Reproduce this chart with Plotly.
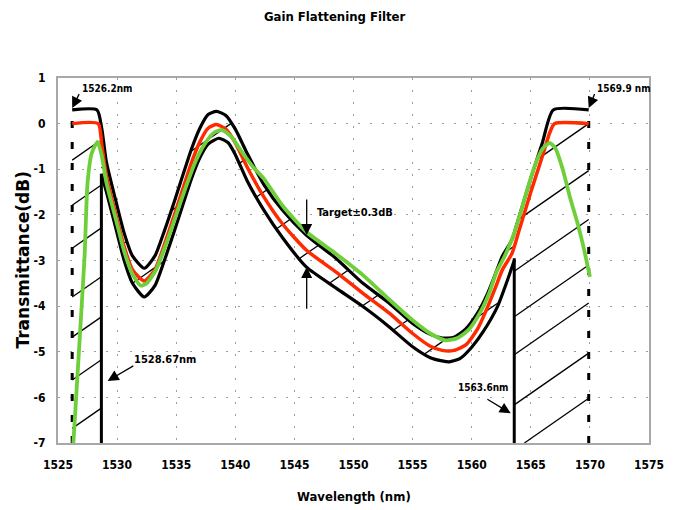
import numpy as np
import plotly.graph_objects as go

# ---------------- data ----------------
# Target curve (red)
target_x = [1526.2, 1528.4, 1528.7, 1529.1, 1529.9, 1530.6, 1531.3, 1532.3, 1533.2, 1534.0,
            1534.85, 1535.6, 1536.3, 1537.0, 1537.7, 1538.4, 1539.2, 1540.0, 1541.0, 1542.4,
            1544.0, 1546.0, 1548.5, 1550.8, 1553.0, 1555.0, 1556.5, 1557.5, 1558.5, 1559.5,
            1560.5, 1561.3, 1562.0, 1562.6, 1563.4, 1564.0, 1565.0, 1566.0, 1566.6, 1567.0, 1569.9]
target_y = [0.0, 0.0, -0.45, -1.15, -2.0, -2.7, -3.2, -3.45, -3.2, -2.65,
            -2.0, -1.4, -0.85, -0.4, -0.1, -0.02, -0.12, -0.42, -0.95, -1.6,
            -2.2, -2.77, -3.25, -3.72, -4.15, -4.6, -4.88, -4.97, -4.97, -4.85,
            -4.5, -4.05, -3.6, -3.2, -2.85, -2.35, -1.5, -0.7, -0.2, 0.0, 0.0]

# Upper tolerance (+0.3 dB, black)
upper_x = [1526.2, 1528.3, 1528.7, 1529.1, 1529.9, 1530.6, 1531.3, 1532.3, 1533.2, 1534.0,
           1534.85, 1535.6, 1536.3, 1537.0, 1537.7, 1538.4, 1539.2, 1540.0, 1541.0, 1542.4,
           1544.0, 1546.0, 1548.5, 1550.8, 1553.0, 1555.0, 1556.5, 1557.5, 1558.5, 1559.5,
           1560.5, 1561.3, 1562.0, 1562.6, 1563.4, 1564.0, 1565.0, 1566.0, 1566.9, 1569.9]
upper_y = [0.3, 0.3, -0.1, -0.85, -1.7, -2.4, -2.9, -3.17, -2.9, -2.35,
           -1.7, -1.1, -0.55, -0.1, 0.2, 0.27, 0.18, -0.12, -0.65, -1.33,
           -1.9, -2.44, -2.95, -3.5, -3.93, -4.38, -4.62, -4.7, -4.68, -4.5,
           -4.15, -3.75, -3.3, -2.9, -2.55, -2.05, -1.2, -0.4, 0.3, 0.3]

# Lower tolerance (-0.3 dB, black)
lower_x = [1528.67, 1529.1, 1529.9, 1530.6, 1531.3, 1532.3, 1533.2, 1534.0, 1534.85, 1535.6,
           1536.3, 1537.0, 1537.7, 1538.6, 1539.4, 1540.0, 1541.0, 1542.4, 1544.0, 1546.0,
           1548.5, 1550.8, 1553.0, 1555.0, 1556.5, 1557.5, 1558.1, 1559.0, 1560.0, 1561.0,
           1562.2, 1563.0, 1563.6]
lower_y = [-1.1, -1.5, -2.3, -3.0, -3.5, -3.8, -3.55, -3.0, -2.35, -1.75,
           -1.2, -0.75, -0.45, -0.32, -0.42, -0.68, -1.25, -1.89, -2.5, -3.14,
           -3.6, -4.01, -4.45, -4.89, -5.13, -5.2, -5.22, -5.15, -4.9, -4.55,
           -4.0, -3.45, -3.0]

# Measured filter (green)
meas_x = [1526.3, 1526.7, 1527.0, 1527.25, 1527.5, 1527.85, 1528.35, 1528.7, 1529.1, 1529.9,
          1530.6, 1531.3, 1532.0, 1532.5, 1533.3, 1534.2, 1535.0, 1535.8, 1536.6, 1537.4,
          1538.2, 1538.9, 1539.7, 1540.5, 1541.5, 1542.4, 1544.0, 1546.0, 1548.5, 1550.8,
          1553.0, 1555.0, 1556.5, 1557.8, 1558.8, 1559.8, 1560.8, 1561.5, 1562.1, 1562.8,
          1563.6, 1564.3, 1565.3, 1566.0, 1566.6, 1567.1, 1567.7, 1568.3, 1568.95, 1569.5, 1570.0]
meas_y = [-7.0, -5.3, -4.0, -2.9, -1.3, -0.65, -0.4, -0.7, -1.3, -2.1,
          -2.8, -3.3, -3.55, -3.5, -3.2, -2.6, -2.0, -1.4, -0.85, -0.45,
          -0.2, -0.14, -0.3, -0.6, -0.95, -1.2, -1.8, -2.37, -2.85, -3.32,
          -3.85, -4.31, -4.6, -4.75, -4.7, -4.5, -4.1, -3.7, -3.25, -2.9,
          -2.4, -1.8, -0.95, -0.55, -0.42, -0.55, -1.0, -1.6, -2.18, -2.75, -3.36]

# Band edges (nm)
edge_dash = [1526.2, 1569.9]
edge_solid = [1528.67, 1563.6]
edge_solid_top = [-1.1, -2.95]

# Hatching (decorative): slope in dB/nm and line levels
hatch_slope = 0.18
left_hatch_levels = [-0.80, -1.79, -2.73, -3.80, -4.68, -5.62, -6.68]     # y at 1526.2 nm
right_hatch_levels = [0.0, -1.03, -2.10, -3.10, -3.93, -5.03, -6.02]      # y at 1569.9 nm
band_hatch_levels = [6.45, 5.45, 4.45, 3.45, 2.45, 1.45, 0.45, -0.55, -1.55, -2.55]  # y at 1569.9 nm

x_ticks = [1525, 1530, 1535, 1540, 1545, 1550, 1555, 1560, 1565, 1570, 1575]
y_ticks = [-7, -6, -5, -4, -3, -2, -1, 0, 1]

# ---------------- helpers ----------------
def up(x):
    return np.interp(x, upper_x, upper_y)

def lo(x):
    return np.interp(x, lower_x, lower_y)

def clip_lines(levels, anchor, x0, x1, lo_fn, hi_fn):
    xs = np.linspace(x0, x1, 3000)
    ox, oy = [], []
    for c in levels:
        ys = c + hatch_slope * (xs - anchor)
        m = (ys >= lo_fn(xs)) & (ys <= hi_fn(xs))
        run_x, run_y = [], []
        for xi, yi, mi in zip(xs, ys, m):
            if mi:
                run_x.append(float(xi)); run_y.append(float(yi))
            elif run_x:
                ox += run_x + [None]; oy += run_y + [None]
                run_x, run_y = [], []
        if run_x:
            ox += run_x + [None]; oy += run_y + [None]
    return ox, oy

hx, hy = [], []
a, b = clip_lines(left_hatch_levels, edge_dash[0], edge_dash[0], edge_solid[0],
                  lambda x: np.full_like(x, -7.0), lambda x: up(x) - 0.5)
hx += a; hy += b
a, b = clip_lines(right_hatch_levels, edge_dash[1], edge_solid[1], edge_dash[1],
                  lambda x: np.full_like(x, -7.0), up)
hx += a; hy += b
a, b = clip_lines(band_hatch_levels, edge_dash[1], edge_solid[0], edge_solid[1], lo, up)
hx += a; hy += b

# ---------------- figure ----------------
FONT = "Liberation Sans Narrow, DejaVu Sans Condensed, Arial Narrow, sans-serif"
fig = go.Figure()

fig.add_trace(go.Scatter(x=hx, y=hy, mode="lines", line=dict(color="black", width=1.3),
                         hoverinfo="skip", showlegend=False, connectgaps=False))

for xe in edge_dash:
    fig.add_trace(go.Scatter(x=[xe, xe], y=[-7, 0.3], mode="lines",
                             line=dict(color="black", width=3, dash="7px,14px"),
                             showlegend=False, hoverinfo="skip"))
for xe, ye in zip(edge_solid, edge_solid_top):
    fig.add_trace(go.Scatter(x=[xe, xe], y=[-7, ye], mode="lines",
                             line=dict(color="black", width=3),
                             showlegend=False, hoverinfo="skip"))

fig.add_trace(go.Scatter(x=upper_x, y=upper_y, mode="lines",
                         line=dict(color="black", width=3.2, shape="spline", smoothing=0.6),
                         showlegend=False))
fig.add_trace(go.Scatter(x=lower_x, y=lower_y, mode="lines",
                         line=dict(color="black", width=3.2, shape="spline", smoothing=0.6),
                         showlegend=False))
fig.add_trace(go.Scatter(x=target_x, y=target_y, mode="lines",
                         line=dict(color="#ff2a00", width=3.5, shape="spline", smoothing=0.6),
                         showlegend=False))
fig.add_trace(go.Scatter(x=meas_x, y=meas_y, mode="lines",
                         line=dict(color="#6fcf3a", width=3.8, shape="spline", smoothing=0.6),
                         showlegend=False))

def arrow(x, y, ax, ay):
    fig.add_annotation(x=x, y=y, ax=ax, ay=ay, xref="x", yref="y", axref="x", ayref="y",
                       text="", showarrow=True, arrowhead=2, arrowsize=1.7,
                       arrowwidth=1.3, arrowcolor="black")

def label(x, y, t, size=11):
    fig.add_annotation(x=x, y=y, xref="x", yref="y", text=t, showarrow=False,
                       xanchor="left", yanchor="middle",
                       font=dict(family=FONT, size=size, color="black", weight="bold"))

arrow(1526.2, 0.34, 1526.85, 0.68)
label(1526.85, 0.76, "1526.2nm", 10)
arrow(1569.9, 0.34, 1570.45, 0.68)
label(1570.45, 0.76, "1569.9 nm", 10)
arrow(1546.04, -2.44, 1546.04, -1.63)
arrow(1546.04, -3.14, 1546.04, -4.09)
label(1546.75, -1.94, "Target±0.3dB", 11)
arrow(1529.2, -5.64, 1531.5, -5.29)
label(1531.3, -5.18, "1528.67nm", 11)
arrow(1563.3, -6.35, 1561.2, -6.02)
label(1558.7, -5.78, "1563.6nm", 10)

fig.add_annotation(x=0.5, y=0, xref="paper", yref="paper", yanchor="top", yshift=-44,
                   text="Wavelength (nm)", showarrow=False,
                   font=dict(family=FONT, size=13, color="black", weight="bold"))
fig.add_annotation(x=0, y=0.5, xref="paper", yref="paper", xanchor="center", yanchor="middle",
                   xshift=-36, textangle=-90, text="Transmittance(dB)", showarrow=False,
                   font=dict(family="DejaVu Sans, sans-serif", size=17, color="black", weight="bold"))

axis_common = dict(showgrid=True, gridcolor="#9a9a9a", gridwidth=1, griddash="2px,10px",
                   zeroline=False, showline=True, linecolor="#a8a8a8", linewidth=2, mirror=True,
                   ticks="", tickfont=dict(family=FONT, size=12, color="black", weight="bold"))

fig.update_layout(
    width=676, height=510,
    margin=dict(l=58, r=24, t=78, b=67),
    paper_bgcolor="white", plot_bgcolor="white",
    title=dict(text="Gain Flattening Filter", x=0.495, xref="container", y=0.968,
               yref="container", xanchor="center", yanchor="middle",
               font=dict(family=FONT, size=13, color="black", weight="bold")),
    xaxis=dict(range=[1525, 1575], tickvals=x_ticks, ticktext=[str(v) for v in x_ticks],
               ticklabelstandoff=10, **axis_common),
    yaxis=dict(range=[-7, 1], tickvals=y_ticks, ticktext=[str(v) for v in y_ticks],
               ticklabelstandoff=8, **axis_common),
)

fig.write_html("out.html", config={"displayModeBar": False},
               post_script="document.body.style.margin='0px';document.body.style.padding='0px';")
